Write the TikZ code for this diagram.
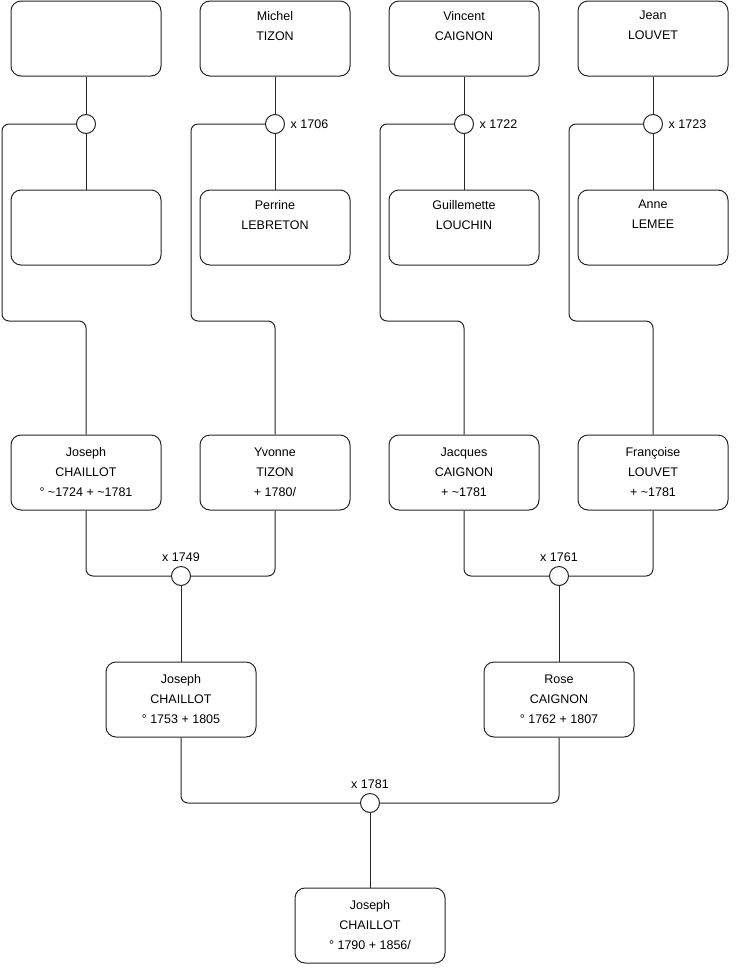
\documentclass[tikz,border=0pt]{standalone}
\usepackage{fontspec}
\setmainfont{Liberation Sans}
\begin{document}
\begin{tikzpicture}[x=1pt,y=-1pt,
  person/.style={draw=black!85, line width=1pt, rounded corners=10pt, minimum width=150pt, minimum height=75pt, inner sep=0pt, align=center, font=\fontsize{12.5}{20}\selectfont},
  union/.style={draw=black!85, line width=1pt, circle, minimum size=19pt, inner sep=0pt, fill=white},
  link/.style={draw=black!85, line width=1pt, rounded corners=7pt},
  date/.style={inner sep=0pt, font=\fontsize{12.5}{15}\selectfont}]
\useasboundingbox (0,0) rectangle (740,975);
% row 1
\node[person] (a1) at (86,38.5) {};
\node[person] (a2) at (275,38.5) {Michel\\TIZON\\\strut};
\node[person] (a3) at (464,38.5) {Vincent\\CAIGNON\\\strut};
\node[person] (a4) at (653,38.5) {Jean\\LOUVET\\\strut};
% unions row 1
\node[union] (u1) at (86,124) {};
\node[union] (u2) at (275,124) {};
\node[union] (u3) at (464,124) {};
\node[union] (u4) at (653,124) {};
\node[date, anchor=west] (l2) at ([xshift=5.5pt]u2.east) {x 1706};
\node[date, anchor=west] (l3) at ([xshift=5.5pt]u3.east) {x 1722};
\node[date, anchor=west] (l4) at ([xshift=5.5pt]u4.east) {x 1723};
% row 2
\node[person] (b1) at (86,227.5) {};
\node[person] (b2) at (275,227.5) {Perrine\\LEBRETON\\\strut};
\node[person] (b3) at (464,227.5) {Guillemette\\LOUCHIN\\\strut};
\node[person] (b4) at (653,227.5) {Anne\\LEMEE\\\strut};
% row 3
\node[person] (c1) at (86,472.5) {Joseph\\CHAILLOT\\° \textasciitilde1724 + \textasciitilde1781};
\node[person] (c2) at (275,472.5) {Yvonne\\TIZON\\+ 1780/};
\node[person] (c3) at (464,472.5) {Jacques\\CAIGNON\\+ \textasciitilde1781};
\node[person] (c4) at (653,472.5) {Françoise\\LOUVET\\+ \textasciitilde1781};
% unions row 3
\node[union] (v1) at (181,576) {};
\node[union] (v2) at (559,576) {};
\node[date, anchor=south] (m1) at ([yshift=4pt]v1.north) {x 1749};
\node[date, anchor=south] (m2) at ([yshift=4pt]v2.north) {x 1761};
% row 4
\node[person] (d1) at (181,699.5) {Joseph\\CHAILLOT\\° 1753 + 1805};
\node[person] (d2) at (559,699.5) {Rose\\CAIGNON\\° 1762 + 1807};
% union row 4
\node[union] (w) at (370,803) {};
\node[date, anchor=south] (n) at ([yshift=4pt]w.north) {x 1781};
% row 5
\node[person] (e) at (370,925.5) {Joseph\\CHAILLOT\\° 1790 + 1856/};
% connectors
\foreach \i in {1,2,3,4} {
  \draw[link] (a\i.south) -- (u\i.north);
  \draw[link] (u\i.south) -- (b\i.north);
}
\draw[link] (u1.west) -- (2,124) -- (2,321) -- (86,321) -- (c1.north);
\draw[link] (u2.west) -- (191,124) -- (191,321) -- (275,321) -- (c2.north);
\draw[link] (u3.west) -- (380,124) -- (380,321) -- (464,321) -- (c3.north);
\draw[link] (u4.west) -- (569,124) -- (569,321) -- (653,321) -- (c4.north);
\draw[link] (c1.south) |- (v1.west);
\draw[link] (c2.south) |- (v1.east);
\draw[link] (v1.south) -- (d1.north);
\draw[link] (c3.south) |- (v2.west);
\draw[link] (c4.south) |- (v2.east);
\draw[link] (v2.south) -- (d2.north);
\draw[link] (d1.south) |- (w.west);
\draw[link] (d2.south) |- (w.east);
\draw[link] (w.south) -- (e.north);
\end{tikzpicture}
\end{document}
